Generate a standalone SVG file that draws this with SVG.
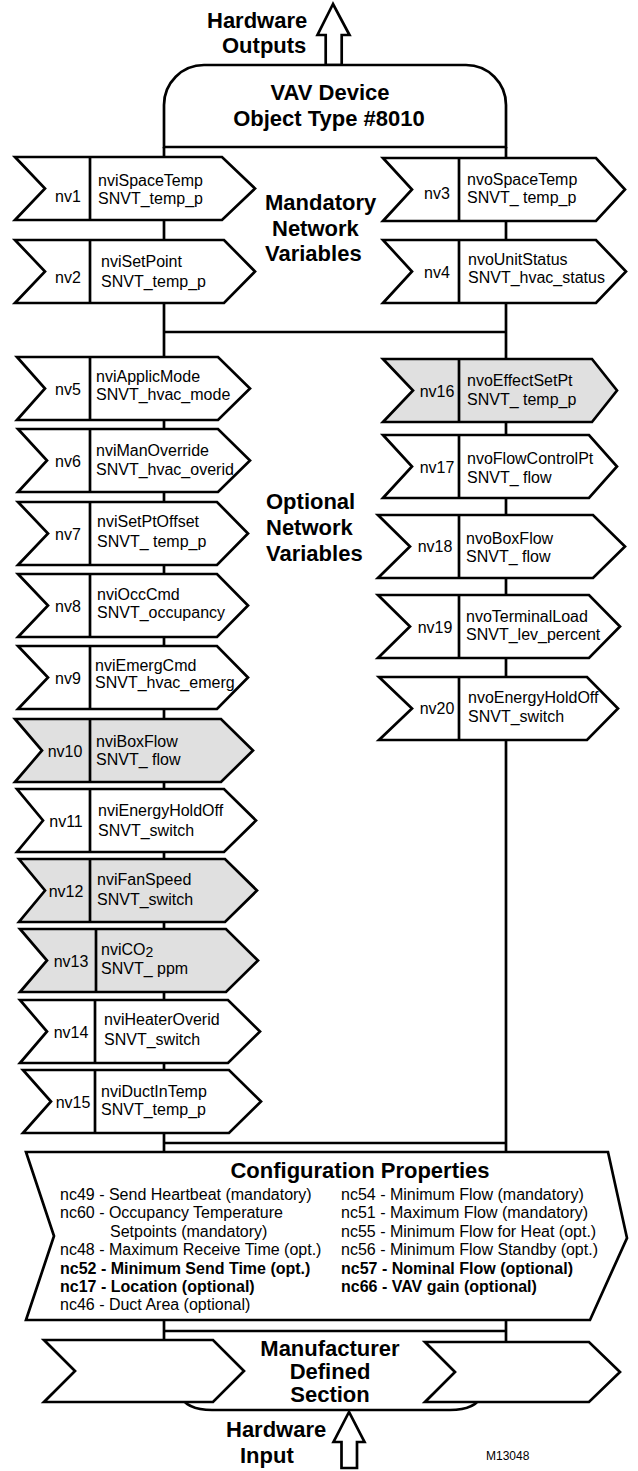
<svg xmlns="http://www.w3.org/2000/svg" width="638" height="1471" viewBox="0 0 638 1471">
<style>
.bx{fill:#fff;stroke:#000;stroke-width:2.7;stroke-linejoin:miter}
.sh{fill:#e0e0e0}
.ln{fill:none;stroke:#000;stroke-width:2.7}
text{font-family:"Liberation Sans",Arial,Helvetica,sans-serif;fill:#000}
.t{font-size:16px}
.lb{font-size:16px;text-anchor:middle}
.h{font-size:22px;font-weight:bold}
.hc{font-size:22px;font-weight:bold;text-anchor:middle}
.cp{font-size:16px}
.b{font-weight:bold}
.sub{font-size:14px}
.id{font-size:12px}
</style>
<rect width="638" height="1471" fill="#fff"/>

<g id="connectors">
<line class="ln" x1="164" y1="147" x2="164" y2="1152"/>
<line class="ln" x1="506" y1="147" x2="506" y2="1152"/>
<line class="ln" x1="164" y1="332" x2="506" y2="332"/>
<line class="ln" x1="164" y1="1143" x2="506" y2="1143"/>
<line class="ln" x1="164" y1="1320" x2="164" y2="1341"/>
<line class="ln" x1="506" y1="1320" x2="506" y2="1343"/>
<line class="ln" x1="164" y1="1331" x2="506" y2="1331"/>
</g>

<g id="hardware-outputs">
<polygon class="bx" points="333,4 317.5,35 325.7,35 325.7,65 341.7,65 341.7,35 349.5,35"/>
<text class="h" x="207" y="28">Hardware</text>
<text class="h" x="222" y="53">Outputs</text>
</g>

<g id="vav-device">
<path class="bx" d="M164,147 V105 A40,40 0 0 1 204,65 H466 A40,40 0 0 1 506,105 V147 Z"/>
<text class="hc" x="330" y="100">VAV Device</text>
<text class="hc" x="329" y="126">Object Type #8010</text>
</g>

<g id="mandatory-label">
<text class="h" x="265" y="210">Mandatory</text>
<text class="h" x="272" y="236">Network</text>
<text class="h" x="265" y="261">Variables</text>
</g>

<g id="optional-label">
<text class="h" x="266" y="509">Optional</text>
<text class="h" x="266" y="535">Network</text>
<text class="h" x="266" y="561">Variables</text>
</g>

<g id="nv1">
<polygon class="bx" points="15,157 222,157 255,188.5 222,220 15,220 45,188.5"/>
<line class="ln" x1="90" y1="157" x2="90" y2="220"/>
<text class="lb" x="68" y="202">nv1</text>
<text class="t" x="98" y="186">nviSpaceTemp</text>
<text class="t" x="98" y="204">SNVT_temp_p</text>
</g>
<g id="nv2">
<polygon class="bx" points="15,240 224,240 255,271.5 224,303 15,303 45,271.5"/>
<line class="ln" x1="90" y1="240" x2="90" y2="303"/>
<text class="lb" x="68" y="283">nv2</text>
<text class="t" x="101" y="267">nviSetPoint</text>
<text class="t" x="101" y="287">SNVT_temp_p</text>
</g>
<g id="nv3">
<polygon class="bx" points="383,158 596,158 625,189.5 596,221 383,221 412,189.5"/>
<line class="ln" x1="459" y1="158" x2="459" y2="221"/>
<text class="lb" x="437" y="199">nv3</text>
<text class="t" x="467" y="185">nvoSpaceTemp</text>
<text class="t" x="467" y="203">SNVT_ temp_p</text>
</g>
<g id="nv4">
<polygon class="bx" points="383,240 596,240 626,271.5 596,303 383,303 412,271.5"/>
<line class="ln" x1="459" y1="240" x2="459" y2="303"/>
<text class="lb" x="437" y="278">nv4</text>
<text class="t" x="468" y="265">nvoUnitStatus</text>
<text class="t" x="468" y="283">SNVT_hvac_status</text>
</g>

<g id="nv5">
<polygon class="bx" points="17,357 218,357 250,388.5 218,420 17,420 45,388.5"/>
<line class="ln" x1="90" y1="357" x2="90" y2="420"/>
<text class="lb" x="68" y="395">nv5</text>
<text class="t" x="96" y="382">nviApplicMode</text>
<text class="t" x="96" y="400">SNVT_hvac_mode</text>
</g>
<g id="nv6">
<polygon class="bx" points="18,429 218,429 250,460.5 218,492 18,492 47,460.5"/>
<line class="ln" x1="90" y1="429" x2="90" y2="492"/>
<text class="lb" x="68" y="467">nv6</text>
<text class="t" x="96" y="456">nviManOverride</text>
<text class="t" x="96" y="475">SNVT_hvac_overid</text>
</g>
<g id="nv7">
<polygon class="bx" points="18,502 217,502 248,533.5 217,565 18,565 48,533.5"/>
<line class="ln" x1="90" y1="502" x2="90" y2="565"/>
<text class="lb" x="68" y="540">nv7</text>
<text class="t" x="97" y="527">nviSetPtOffset</text>
<text class="t" x="97" y="547">SNVT_ temp_p</text>
</g>
<g id="nv8">
<polygon class="bx" points="18,574 217,574 248,605.5 217,637 18,637 48,605.5"/>
<line class="ln" x1="90" y1="574" x2="90" y2="637"/>
<text class="lb" x="68" y="612">nv8</text>
<text class="t" x="97" y="600">nviOccCmd</text>
<text class="t" x="97" y="618">SNVT_occupancy</text>
</g>
<g id="nv9">
<polygon class="bx" points="18,646 217,646 248,677.5 217,709 18,709 48,677.5"/>
<line class="ln" x1="90" y1="646" x2="90" y2="709"/>
<text class="lb" x="68" y="684">nv9</text>
<text class="t" x="95" y="671">nviEmergCmd</text>
<text class="t" x="95" y="688">SNVT_hvac_emerg</text>
</g>
<g id="nv10">
<polygon class="bx sh" points="15,719 221,719 253,750.5 221,782 15,782 42,750.5"/>
<line class="ln" x1="90" y1="719" x2="90" y2="782"/>
<text class="lb" x="65" y="757">nv10</text>
<text class="t" x="96" y="747">nviBoxFlow</text>
<text class="t" x="96" y="765">SNVT_ flow</text>
</g>
<g id="nv11">
<polygon class="bx" points="17,789 224,789 256,820.5 224,852 17,852 43,820.5"/>
<line class="ln" x1="90" y1="789" x2="90" y2="852"/>
<text class="lb" x="66" y="827">nv11</text>
<text class="t" x="98" y="816">nviEnergyHoldOff</text>
<text class="t" x="98" y="836">SNVT_switch</text>
</g>
<g id="nv12">
<polygon class="bx sh" points="19,859 225,859 257,890.5 225,922 19,922 45,890.5"/>
<line class="ln" x1="90" y1="859" x2="90" y2="922"/>
<text class="lb" x="66" y="897">nv12</text>
<text class="t" x="97" y="885">nviFanSpeed</text>
<text class="t" x="97" y="905">SNVT_switch</text>
</g>
<g id="nv13">
<polygon class="bx sh" points="20,929 226,929 258,960.5 226,992 20,992 47,960.5"/>
<line class="ln" x1="96" y1="929" x2="96" y2="992"/>
<text class="lb" x="71" y="967">nv13</text>
<text class="t" x="101" y="955">nviCO<tspan class="sub" dy="2">2</tspan></text>
<text class="t" x="101" y="974">SNVT_ ppm</text>
</g>
<g id="nv14">
<polygon class="bx" points="20,1000 228,1000 260,1031.5 228,1063 20,1063 47,1031.5"/>
<line class="ln" x1="95" y1="1000" x2="95" y2="1063"/>
<text class="lb" x="71" y="1038">nv14</text>
<text class="t" x="104" y="1025">nviHeaterOverid</text>
<text class="t" x="104" y="1045">SNVT_switch</text>
</g>
<g id="nv15">
<polygon class="bx" points="23,1070 229,1070 261,1101.5 229,1133 23,1133 51,1101.5"/>
<line class="ln" x1="95" y1="1070" x2="95" y2="1133"/>
<text class="lb" x="73" y="1108">nv15</text>
<text class="t" x="101" y="1097">nviDuctInTemp</text>
<text class="t" x="101" y="1115">SNVT_temp_p</text>
</g>

<g id="nv16">
<polygon class="bx sh" points="383,359 592,359 617,390.5 592,422 383,422 413,390.5"/>
<line class="ln" x1="459" y1="359" x2="459" y2="422"/>
<text class="lb" x="437" y="397">nv16</text>
<text class="t" x="467" y="386">nvoEffectSetPt</text>
<text class="t" x="467" y="405">SNVT_ temp_p</text>
</g>
<g id="nv17">
<polygon class="bx" points="383,435 589,435 617,466.5 589,498 383,498 412,466.5"/>
<line class="ln" x1="459" y1="435" x2="459" y2="498"/>
<text class="lb" x="437" y="473">nv17</text>
<text class="t" x="467" y="464">nvoFlowControlPt</text>
<text class="t" x="467" y="483">SNVT_ flow</text>
</g>
<g id="nv18">
<polygon class="bx" points="378,515 593,515 625,546.5 593,578 378,578 410,546.5"/>
<line class="ln" x1="459" y1="515" x2="459" y2="578"/>
<text class="lb" x="435" y="552">nv18</text>
<text class="t" x="466" y="544">nvoBoxFlow</text>
<text class="t" x="466" y="562">SNVT_ flow</text>
</g>
<g id="nv19">
<polygon class="bx" points="378,595 589,595 620,626.5 589,658 378,658 410,626.5"/>
<line class="ln" x1="459" y1="595" x2="459" y2="658"/>
<text class="lb" x="435" y="633">nv19</text>
<text class="t" x="466" y="622">nvoTerminalLoad</text>
<text class="t" x="466" y="640">SNVT_lev_percent</text>
</g>
<g id="nv20">
<polygon class="bx" points="379,677 587,677 618,708.5 587,740 379,740 412,708.5"/>
<line class="ln" x1="459" y1="677" x2="459" y2="740"/>
<text class="lb" x="437" y="714">nv20</text>
<text class="t" x="468" y="703">nvoEnergyHoldOff</text>
<text class="t" x="468" y="722">SNVT_switch</text>
</g>

<g id="configuration-properties">
<polygon class="bx" points="26,1152 608,1152 627,1238 590,1320 26,1320 54,1236"/>
<text class="hc" x="360" y="1178">Configuration Properties</text>
<text class="cp" x="60" y="1200">nc49 - Send Heartbeat (mandatory)</text>
<text class="cp" x="60" y="1218.4">nc60 - Occupancy Temperature</text>
<text class="cp" x="110" y="1236.8">Setpoints (mandatory)</text>
<text class="cp" x="60" y="1255.2">nc48 - Maximum Receive Time (opt.)</text>
<text class="cp b" x="60" y="1273.6">nc52 - Minimum Send Time (opt.)</text>
<text class="cp b" x="60" y="1292">nc17 - Location (optional)</text>
<text class="cp" x="60" y="1310.4">nc46 - Duct Area (optional)</text>
<text class="cp" x="341" y="1200">nc54 - Minimum Flow (mandatory)</text>
<text class="cp" x="341" y="1218.4">nc51 - Maximum Flow (mandatory)</text>
<text class="cp" x="341" y="1236.8">nc55 - Minimum Flow for Heat (opt.)</text>
<text class="cp" x="341" y="1255.2">nc56 - Minimum Flow Standby (opt.)</text>
<text class="cp b" x="341" y="1273.6">nc57 - Nominal Flow (optional)</text>
<text class="cp b" x="341" y="1292">nc66 - VAV gain (optional)</text>
</g>

<g id="manufacturer-defined-section">
<path class="bx" d="M180,1395 Q186,1410 212,1410 H450 Q476,1410 482,1395"/>
<polygon class="bx" points="44,1340 213,1340 244,1371 213,1402 44,1402 75,1371"/>
<polygon class="bx" points="425,1342 589,1342 620,1372 589,1402 425,1402 455,1372"/>
<text class="hc" x="330" y="1356">Manufacturer</text>
<text class="hc" x="330" y="1379">Defined</text>
<text class="hc" x="330" y="1402">Section</text>
</g>

<g id="hardware-input">
<polygon class="bx" points="349,1412 333.5,1442 341.5,1442 341.5,1468 357,1468 357,1442 364.5,1442"/>
<text class="h" x="226" y="1437">Hardware</text>
<text class="h" x="240" y="1463">Input</text>
</g>

<text class="id" x="486" y="1460">M13048</text>
</svg>
